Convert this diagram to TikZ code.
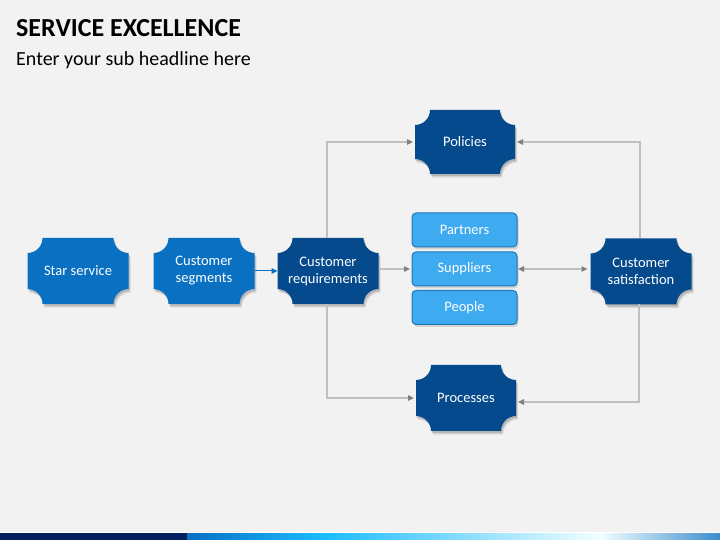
\documentclass[tikz,border=0pt]{standalone}
\usepackage{fontspec}
\setmainfont{Carlito}
\usetikzlibrary{arrows.meta}
\definecolor{bg}{HTML}{F2F2F2}
\definecolor{midblue}{HTML}{0A70C2}
\definecolor{darkblue}{HTML}{054A8D}
\definecolor{lightblue}{HTML}{3EAAF0}
\definecolor{lbborder}{HTML}{2178B8}
\definecolor{linegray}{HTML}{BFBFBF}
\definecolor{tipgray}{HTML}{808080}
\definecolor{navy}{HTML}{002060}
\newcommand\rr{15pt}
\newcommand\notchpath[1]{([xshift=\rr]#1.north west) -- ([xshift=-\rr]#1.north east)
  arc[start angle=180,end angle=270,radius=\rr] -- ([yshift=\rr]#1.south east)
  arc[start angle=90,end angle=180,radius=\rr] -- ([xshift=\rr]#1.south west)
  arc[start angle=0,end angle=90,radius=\rr] -- ([yshift=-\rr]#1.north west)
  arc[start angle=270,end angle=360,radius=\rr] -- cycle}
\newcommand\notchshape[2]{%
  \fill[black,opacity=0.10,transform canvas={shift={(2.2pt,-3.6pt)}}] \notchpath{#1};
  \fill[black,opacity=0.16,transform canvas={shift={(1.2pt,-2.2pt)}}] \notchpath{#1};
  \fill[#2] \notchpath{#1};}
\tikzset{
  notched/.style={inner sep=0pt, outer sep=0pt, minimum width=101pt, minimum height=66pt,
    text=white, align=center, font=\fontsize{14.5}{17}\selectfont},
  pill/.style={inner sep=0pt, outer sep=0pt, minimum width=105pt, minimum height=34pt,
    text=white, font=\fontsize{14.5}{17}\selectfont},
  conn/.style={draw=linegray, line width=1.1pt, -{Triangle[length=6pt,width=5.5pt,color=tipgray]}, shorten >=2pt},
  biconn/.style={draw=linegray, line width=1.1pt, {Triangle[length=6pt,width=5.5pt,color=tipgray]}-{Triangle[length=6pt,width=5.5pt,color=tipgray]}, shorten >=3pt, shorten <=1pt},
  blueconn/.style={draw=midblue, line width=1pt, -{Triangle[length=6pt,width=5.5pt,color=midblue]}}
}
\begin{document}
\begin{tikzpicture}[x=1pt,y=1pt]
\useasboundingbox (0,0) rectangle (720,540);
\fill[bg] (0,0) rectangle (720,540);
% titles
\node[anchor=base west, inner sep=0pt, font=\fontsize{26}{30}\selectfont\bfseries] (title) at (16,503) {SERVICE EXCELLENCE};
\node[anchor=base west, inner sep=0pt, font=\fontsize{20}{24}\selectfont] (sub) at (16,474) {Enter your sub headline here};
% nodes (text only, shapes drawn below)
\node[notched] (star) at (78,269) {};
\node[notched] (seg) at (204,269) {};
\node[notched] (req) at (328,269) {};
\node[notched, minimum width=100pt, minimum height=64pt] (pol) at (465,398) {};
\node[notched] (sat) at (641,268.5) {};
\node[notched, minimum width=100pt] (proc) at (466,142) {};
% shapes
\notchshape{star}{midblue}
\notchshape{seg}{midblue}
\notchshape{req}{darkblue}
\notchshape{pol}{darkblue}
\notchshape{sat}{darkblue}
\notchshape{proc}{darkblue}
% texts
\node[notched] at (star) {Star service};
\node[notched] at (seg) {Customer\\segments};
\node[notched] at (req) {Customer\\requirements};
\node[notched, minimum width=100pt, minimum height=64pt] at (pol) {Policies};
\node[notched] at (sat) {Customer\\satisfaction};
\node[notched, minimum width=100pt] at (proc) {Processes};
% pills
\foreach \n/\t/\yy in {part/Partners/310, supp/Suppliers/271, peop/People/232.5}{
  \fill[black,opacity=0.12,rounded corners=4pt] (464.5-52.5+1.5,\yy-17-2.5) rectangle (464.5+52.5+1.5,\yy+17-2.5);
  \node[pill, draw=lbborder, line width=1pt, fill=lightblue, rounded corners=4pt] (\n) at (464.5,\yy) {\t};
}
% connectors
\draw[blueconn] (seg.east) -- (req.west);
\draw[conn] ([xshift=-1pt]req.north) |- (pol.west);
\draw[conn] ([xshift=-1pt]req.south) |- (proc.west);
\draw[conn] (req.east |- supp.west) -- (supp.west);
\draw[biconn] (supp.east) -- (sat.west |- supp.east);
\draw[conn] ([xshift=-1pt]sat.north) |- (pol.east);
\draw[conn] ([xshift=-2pt]sat.south) |- ([yshift=-4pt]proc.east);
% bottom bar
\fill[navy] (0,0) rectangle (187,7);
\shade[left color=midblue, right color=cyan!70!blue!90] (187,0) rectangle (320,7);
\shade[left color=cyan!70!blue!90, right color=white!95!cyan] (320,0) rectangle (600,7);
\shade[left color=white!95!cyan, right color=midblue!80] (600,0) rectangle (720,7);
\fill[white] (0,7) rectangle (720,8);
\end{tikzpicture}
\end{document}
